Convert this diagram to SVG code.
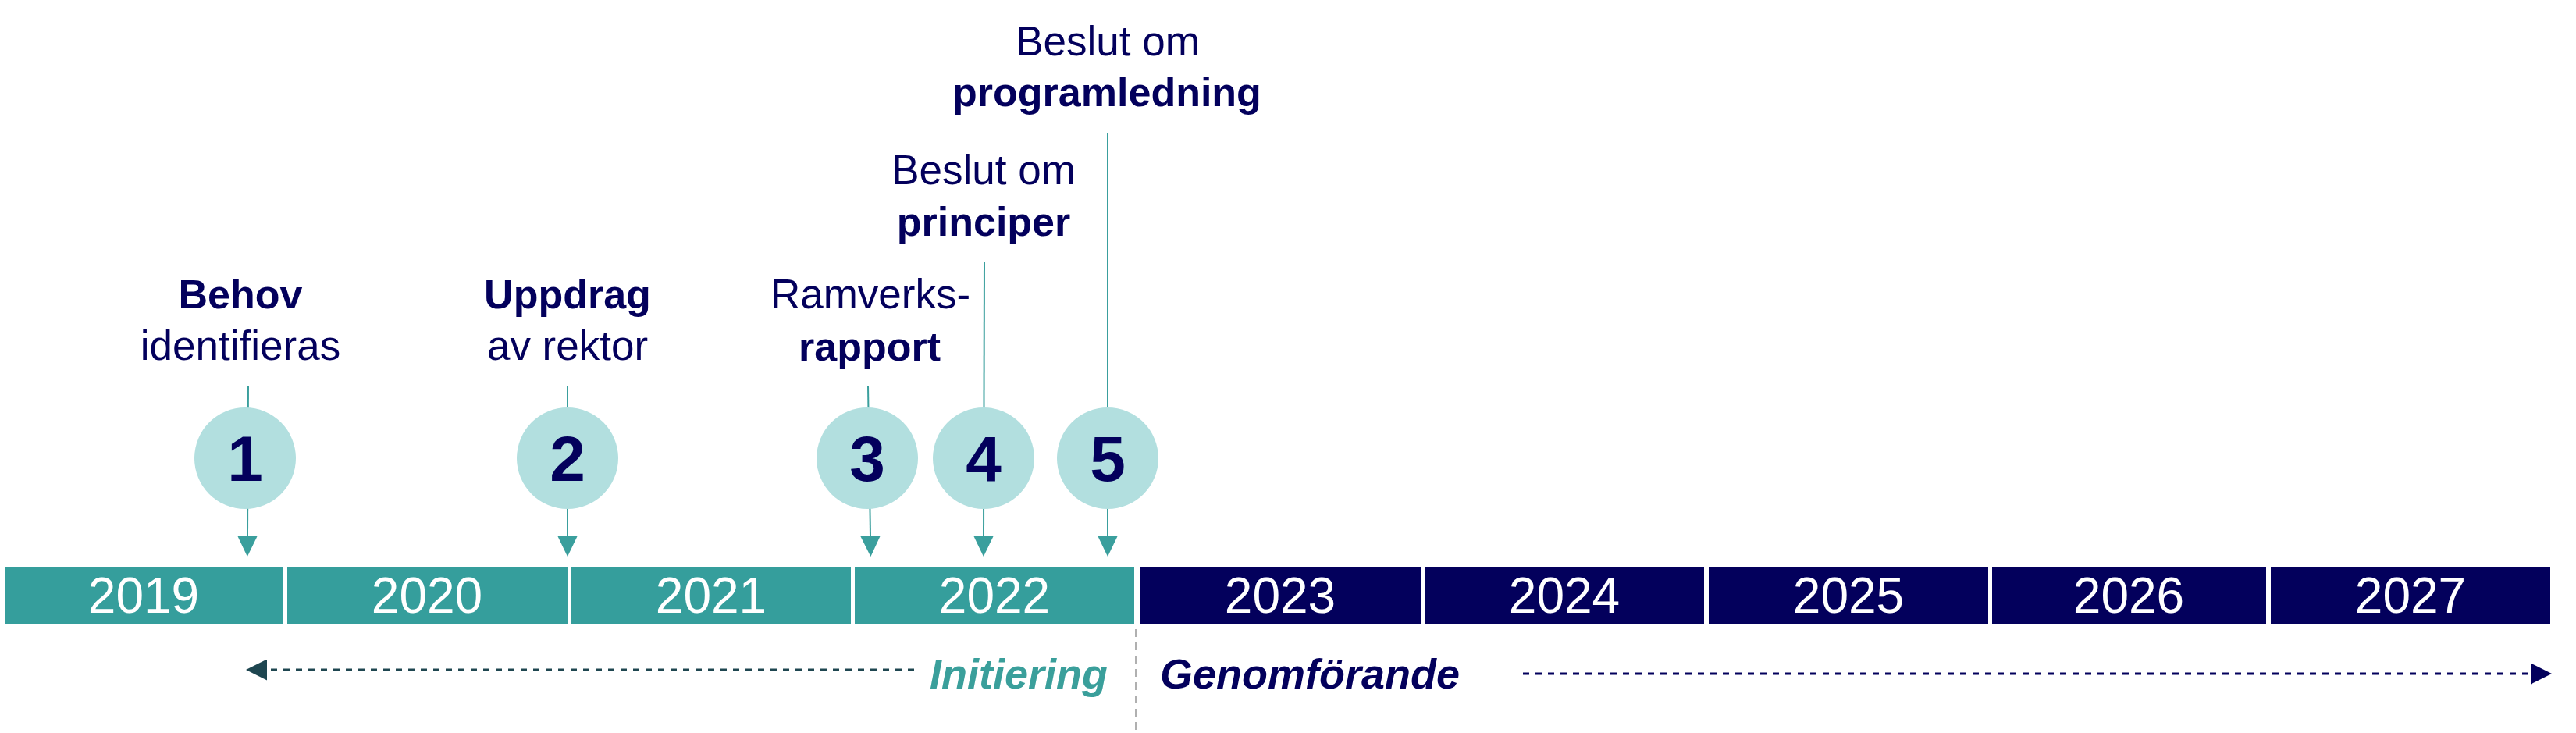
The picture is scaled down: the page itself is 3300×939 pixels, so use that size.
<svg xmlns="http://www.w3.org/2000/svg" width="3300" height="939" viewBox="0 0 3300 939">
<style>
.bg{fill:#ffffff}
.seg-a{fill:#359e9c}
.seg-b{fill:#03005c}
.year{font-family:"Liberation Sans",Arial,sans-serif;font-size:64px;fill:#ffffff;text-anchor:middle}
.circ{fill:#b2dfdf}
.num{font-family:"Liberation Sans",Arial,sans-serif;font-size:82px;font-weight:bold;fill:#03005c;text-anchor:middle}
.lbl{font-family:"Liberation Sans",Arial,sans-serif;font-size:53px;fill:#03005c;text-anchor:middle}
.b{font-weight:bold;font-size:52px}
.stem{stroke:#3a9f9d;stroke-width:2;fill:none}
.phase{font-family:"Liberation Sans",Arial,sans-serif;font-size:54px;font-weight:bold;font-style:italic}
</style>
<defs>
<marker id="tri" markerUnits="userSpaceOnUse" markerWidth="27" markerHeight="26" refX="0" refY="13" orient="auto">
<path d="M0,0 L27,13 L0,26 z" fill="#3a9f9d"/>
</marker>
<marker id="triDark" markerUnits="userSpaceOnUse" markerWidth="27" markerHeight="27" refX="0" refY="13.5" orient="auto">
<path d="M0,0 L27,13.5 L0,27 z" fill="#1e4650"/>
</marker>
<marker id="triNavy" markerUnits="userSpaceOnUse" markerWidth="27" markerHeight="27" refX="0" refY="13.5" orient="auto">
<path d="M0,0 L27,13.5 L0,27 z" fill="#03005c"/>
</marker>
</defs>
<rect class="bg" x="0" y="0" width="3300" height="939"/>

<g id="connectors">
<line class="stem" x1="318" y1="494" x2="317" y2="686" marker-end="url(#tri)"/>
<line class="stem" x1="727" y1="494" x2="727" y2="686" marker-end="url(#tri)"/>
<line class="stem" x1="1112" y1="494" x2="1115" y2="686" marker-end="url(#tri)"/>
<line class="stem" x1="1261" y1="336" x2="1260" y2="686" marker-end="url(#tri)"/>
<line class="stem" x1="1419" y1="170" x2="1419" y2="686" marker-end="url(#tri)"/>
<line x1="1171" y1="858" x2="342" y2="858" stroke="#1e4650" stroke-width="3" stroke-dasharray="8 8" marker-end="url(#triDark)"/>
<line x1="1951" y1="863" x2="3242" y2="863" stroke="#03005c" stroke-width="3" stroke-dasharray="8 8" marker-end="url(#triNavy)"/>
<line x1="1455" y1="806" x2="1455" y2="939" stroke="#b0b0b0" stroke-width="2" stroke-dasharray="10 7"/>
</g>

<g id="timeline">
<g id="y2019"><rect class="seg-a" x="6" y="726" width="357" height="73"/><text class="year" x="184" y="785">2019</text></g>
<g id="y2020"><rect class="seg-a" x="368" y="726" width="359" height="73"/><text class="year" x="547" y="785">2020</text></g>
<g id="y2021"><rect class="seg-a" x="732" y="726" width="358" height="73"/><text class="year" x="911" y="785">2021</text></g>
<g id="y2022"><rect class="seg-a" x="1095" y="726" width="358" height="73"/><text class="year" x="1274" y="785">2022</text></g>
<g id="y2023"><rect class="seg-b" x="1461" y="726" width="359" height="73"/><text class="year" x="1640" y="785">2023</text></g>
<g id="y2024"><rect class="seg-b" x="1826" y="726" width="357" height="73"/><text class="year" x="2004" y="785">2024</text></g>
<g id="y2025"><rect class="seg-b" x="2189" y="726" width="358" height="73"/><text class="year" x="2368" y="785">2025</text></g>
<g id="y2026"><rect class="seg-b" x="2552" y="726" width="351" height="73"/><text class="year" x="2727" y="785">2026</text></g>
<g id="y2027"><rect class="seg-b" x="2909" y="726" width="358" height="73"/><text class="year" x="3088" y="785">2027</text></g>
</g>

<g id="m1">
<text class="lbl b" x="308" y="395">Behov</text>
<text class="lbl" x="308" y="461">identifieras</text>
<circle class="circ" cx="314" cy="587" r="65"/>
<text class="num" x="314" y="616">1</text>
</g>
<g id="m2">
<text class="lbl b" x="727" y="395">Uppdrag</text>
<text class="lbl" x="727" y="461">av rektor</text>
<circle class="circ" cx="727" cy="587" r="65"/>
<text class="num" x="727" y="616">2</text>
</g>
<g id="m3">
<text class="lbl" x="1115" y="395">Ramverks-</text>
<text class="lbl b" x="1114" y="462">rapport</text>
<circle class="circ" cx="1111" cy="587" r="65"/>
<text class="num" x="1111" y="616">3</text>
</g>
<g id="m4">
<text class="lbl" x="1260" y="236">Beslut om</text>
<text class="lbl b" x="1260" y="302">principer</text>
<circle class="circ" cx="1260" cy="587" r="65"/>
<text class="num" x="1260" y="616">4</text>
</g>
<g id="m5">
<text class="lbl" x="1419" y="71">Beslut om</text>
<text class="lbl b" x="1418" y="136">programledning</text>
<circle class="circ" cx="1419" cy="587" r="65"/>
<text class="num" x="1419" y="616">5</text>
</g>

<g id="phases">
<text class="phase" x="1419" y="882" fill="#3a9f9b" text-anchor="end">Initiering</text>
<text class="phase" x="1486" y="882" fill="#03005c">Genomförande</text>
</g>
</svg>
